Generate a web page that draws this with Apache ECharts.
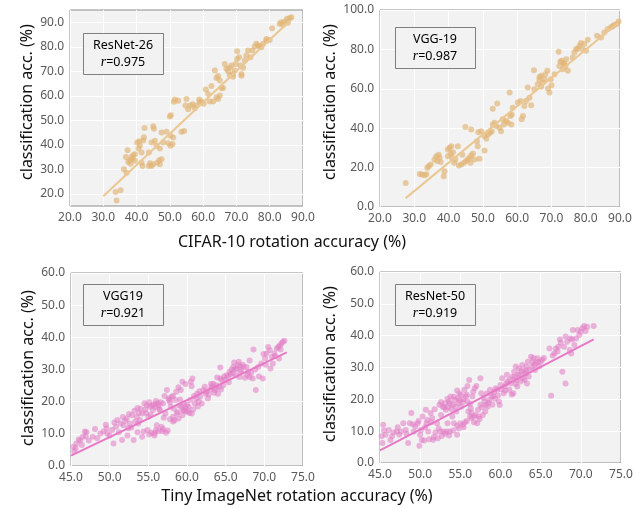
<!DOCTYPE html>
<html><head><meta charset="utf-8">
<script src="https://cdn.jsdelivr.net/npm/echarts@6.0.0/dist/echarts.min.js"></script>
<style>html,body{margin:0;padding:0;background:#fff}#c{width:642px;height:508px}</style>
</head><body><div id="c"></div>
<script>
// ---------- DATA ----------
const resnet26Cifar = [
[33.7,20.7],[35.2,21.4],[34,17.2],[37,28.6],[36.2,30],[37.3,37.8],[38.5,35],[38,33.7],[39,35.7],[37.5,33],
[38.2,32.2],[38.8,34.3],[39.5,36.1],[40.2,40.9],[40.8,41.4],[41,39.6],[40.6,38.5],[42,41.7],[42.2,43.1],[42.4,46.8],
[45,47.6],[45.2,46.5],[41.5,36.8],[41.5,32.7],[41.8,31.3],[43.7,31.3],[44.5,31.3],[44,32.4],[45,32],[46.2,32.7],
[46.8,33.7],[47.5,34.1],[47,32],[43.7,36.8],[44.5,40.9],[45.5,41.6],[46,39.6],[47,38.5],[48,40.9],[47.5,45],
[49,45.3],[49.5,40.6],[50.2,39.6],[50.8,40.3],[50.2,43.7],[51,43],[50,51.5],[50.3,52],[51.2,57.6],[51.5,58.5],
[52.5,58],[53.5,45.3],[54.3,45.6],[54.7,56],[55,58.7],[56.2,56],[56.8,56.5],[57.5,54.9],[58,56],[58.8,58.5],
[59,57.4],[59.5,57.7],[60.2,56.7],[60.8,62.6],[61.5,60.7],[62,57.7],[63,57.7],[63.5,70.3],[64,67.2],[64.5,68.1],
[65,66.2],[65,60.1],[65.5,63.2],[66,63.2],[64.5,58.7],[64,59.4],[66.5,73],[67,71],[67.5,70],[68,71.4],
[68.5,72.3],[69,68.9],[69.5,70.3],[69.8,73],[70.2,75],[70.2,78.2],[70.8,75.7],[71.2,72.3],[71.5,68.9],[72,71.4],
[72.5,74.4],[73,76.4],[73.5,78.5],[74.2,75.7],[74.8,78.5],[75.5,80.1],[76,81.2],[76.5,80.5],[77,80.1],[77.5,79.8],
[78,81.2],[79,82.5],[79,83.2],[80,82.8],[80.7,87.6],[83,89.4],[83.5,90],[84.5,90.3],[85.2,91.4],[86,91.6],
[86.5,92],[85.5,89.8],[84,89],[69,67.8],[68,68.5],[71.5,68.2],[39.5,33.5],[36.8,35],[55.5,54.5],[62.5,64]
];
const vgg19Cifar = [
[27.5,12.2],[31.6,16.8],[32.2,16.5],[33,16.1],[33.5,16.6],[33.8,19.9],[34.2,20.7],[34.8,21.6],[35.9,24.1],[36.4,25.8],
[37.1,26.5],[37.4,25],[36.7,23.3],[37.7,22.8],[38.8,18.2],[38.6,15.6],[39.8,29.2],[40.3,30.1],[40.8,30.9],[41.3,27.8],
[40.6,27.2],[39.8,25.8],[41,25],[41.6,22.4],[42,24.1],[42.7,30.9],[43,21.1],[43.7,21.6],[44.5,22.4],[45.1,23.3],
[45.6,24.1],[46.1,25],[46.6,26.1],[47.1,27.2],[46.4,22.4],[47.6,24.1],[44.9,40.6],[46.6,39.4],[48.3,33.4],[48.7,38],
[49.5,38.5],[48.5,30.9],[49,24.5],[50.5,36],[51,34.6],[51.5,36.8],[52.1,37.7],[52.6,38.5],[50.5,28.7],[52.9,41.9],
[53.4,42.8],[53.9,41.1],[54.2,52.6],[52.9,49.9],[54.9,40.2],[55.3,38.5],[56.1,41.9],[56.8,43.6],[57.3,42.8],[57.8,58.1],
[58,46.2],[58.4,47],[58.7,50.4],[58.3,41.9],[60.2,53],[61,53.8],[61.7,46.2],[61.3,44.5],[62.1,51.3],[62.6,53.8],
[63.6,55.5],[64.1,51.6],[63.1,60.6],[64.9,69.4],[65,59.8],[66,62.3],[66.5,64.5],[67,66.6],[67.5,63.2],[68,64.9],
[67,61.1],[68.2,67.4],[68.8,69.1],[69,60.1],[70,61.8],[69.8,64.9],[69.4,58.1],[70.9,67.4],[72.1,78.8],[72.3,71.6],
[72.6,73.7],[73,74.2],[73.6,73],[74.1,71.6],[74.3,75],[73.3,69.9],[74.8,69.1],[76.2,75.9],[76.7,78.4],[77.2,80.1],
[77.7,80.5],[78.2,81.8],[78.6,83.2],[79.1,80.1],[79.6,82.7],[80.6,84.9],[80.1,79.3],[83.3,86.9],[84.5,86.1],[85.4,88.6],
[86.4,90.3],[87.4,91.2],[88.3,92.4],[89.1,92.9],[89.6,94.1],[87.9,91.7],[44,26.5],[55.8,44.5],[66.5,66],[73.8,72.5]
];
const vgg19Tiny = [
[45.6,5.5],[45.7,7],[46.2,7.9],[46.5,9.1],[46.8,10.7],[46.4,6.5],[47.3,7.9],[47.8,9.1],[48.4,8.6],[48.8,10.1],
[49.2,10.7],[49.6,11.7],[49.7,10.1],[50.3,11.2],[50.5,7],[50.8,12.2],[51,14.3],[51.4,13.2],[51.6,8.1],[51.8,12.7],
[52,14.1],[52.2,14.8],[52.4,11.7],[52.6,13.2],[52.9,15.8],[53.1,8.1],[53.3,13.8],[53.5,15.3],[53.7,13.2],[53.9,14.3],
[54.2,16.3],[54.2,9.1],[54.4,10.7],[54.6,17.6],[54.8,18.9],[54.9,11.2],[55,15.3],[55.2,18.4],[55.4,10.3],[55.6,17.4],
[55.7,19.2],[55.9,18.4],[56,11.2],[56.1,12.7],[56.3,18.9],[56.5,17.4],[56.7,12.2],[56.9,19.4],[57.2,16.3],[57.3,10.3],
[57.4,23.6],[57.6,21],[57.8,14.5],[57.9,18.4],[58,21.5],[58.2,15.3],[58.2,13.8],[58.5,20.5],[58.6,23.1],[58.7,16.3],
[58.9,14.8],[59.1,20.7],[59.2,23.6],[59.3,18.4],[59.4,26.2],[59.5,17.4],[59.6,19.4],[59.7,18.1],[59.9,16.9],[60.2,18.4],
[60.4,20.5],[60.5,26.2],[60.7,27.2],[60.6,16.3],[60.8,17.6],[61,19.4],[61.2,21],[61.5,20],[61.7,21.5],[61.9,19.4],
[62.1,23.6],[62.3,24.6],[62.5,23.1],[62.7,21],[63,23.8],[63.2,24.6],[63.4,25.6],[63.6,23.6],[63.8,25.1],[64,22.5],
[64.2,24.6],[64.3,27.2],[64.3,30.6],[64.5,26.7],[64.7,25.1],[64.9,26.7],[65.1,28.2],[65.3,27.7],[65.5,29.3],[65.8,30],
[66,30.8],[66.2,30],[66.4,30.3],[66.6,31.3],[66.7,32.4],[66.8,27.7],[67,29.8],[67.3,30.8],[67.5,27.4],[67.7,30.8],
[67.9,29.3],[68.1,27.7],[68.5,27.2],[68.6,36.2],[68.8,30],[68.9,23.6],[69.2,30.8],[69.6,31.9],[69.8,27.2],[70.1,33.4],
[70.3,35],[70.5,37],[70.7,36],[71,33.9],[71.1,31.9],[71.3,35],[71.6,36.5],[71.8,37],[72,37.5],[72.2,38.1],
[72.4,38.6],[72.6,38.9],[71.9,33.4],[70.8,30.3],[45.4,4.6],[47,10.5],[50,9.5],[51.2,10.5],[52.8,12],[53.8,16.5],
[55.3,16],[56.2,19.5],[56.8,10.8],[57.8,19.8],[58.4,14.2],[59.8,25.5],[60.1,17.2],[61.4,18.5],[62.8,22.2],[63.5,22.8],
[65.6,28.5],[66.9,30.9],[55.8,10.2],[57,15],
[53.2,17.2],[53.6,18],[54,17.8],[54.5,19.5],[55.1,19.8],[55.5,18.8],[56,20.2],[56.4,17.8],[56.6,19.8],[54.7,16.5],
[55.8,9.5],[56.3,10.8],[55.1,9.8],[56.9,11.5],[57.5,11],[58.8,16.8],[59,18.8],[59.6,17.2],[60,19],[60.3,16.5],
[59.4,15.8],[58.3,17.8],[57.7,20.5],[58.2,21.8],[60.9,21.8],[61.6,23.2],[62.4,22.5],[63.1,25.5],[63.7,24.2],[64.4,23.8],
[64.8,27.8],[65.4,26],[65.9,28.8],[66.3,28.2],[66.9,29.2],[67.2,31.5],[67.8,28.2],[68.3,29],[69.3,27.8],[70.2,31.5],
[71.4,34.2],[72.1,36.2],[52.5,16.2],[51.7,15.2],[50.6,13.5],[49.5,12.8],[48.1,11.5],[46,8.2],[45.3,6],[46.9,9.2],
[53.6,10.5],[52.3,9.5],[57.1,21.8],[58.9,24.5],[60.6,24.8],[61.3,22.5],[63.9,27.5],[66.1,32.2],[68.1,32.8],[69.9,34.8]
];
const resnet50Tiny = [
[45.2,8.4],[45.3,6.3],[45.4,12],[45.7,8.9],[46.1,10.4],[46.5,8.4],[46.7,9.6],[47.1,9.9],[47.4,8.9],[47.6,9.9],
[47.9,12.5],[48.2,10.4],[48.5,6.3],[48.7,12.5],[48.9,15.7],[49.2,9.9],[49.4,11.5],[49.7,12.5],[49.9,5.4],[50,8.9],
[50.1,10.4],[50.3,14.6],[50.5,7.1],[50.7,16.7],[50.8,12.5],[51,9.9],[51.1,7.5],[51.3,15.7],[51.5,14.1],[51.6,7.3],
[51.8,16.9],[51.9,9.6],[52.1,12.5],[52.2,7.8],[52.4,18.3],[52.5,9.9],[52.6,15.1],[52.8,17.7],[52.9,9.9],[53.1,18.8],
[53.2,16.7],[53.3,9.9],[53.4,12.5],[53.6,19.3],[53.7,9.9],[53.8,20.9],[53.9,16.9],[54,14.6],[54.1,18.3],[54.2,12.5],
[54.3,19.8],[54.4,17.7],[54.6,8.9],[54.6,11.7],[54.7,20.4],[54.8,18.8],[55,12.5],[55.1,21.4],[55.1,17.7],[55.3,12],
[55.4,20],[55.5,23],[55.7,20.9],[55.9,19.3],[56.1,26.1],[56.2,14.6],[56.3,17.2],[56.4,14.1],[56.5,20.9],[56.6,22.4],
[56.7,14.6],[56.8,23.5],[56.9,15.1],[57.1,12.5],[57.2,16.7],[57.3,14.6],[57.5,18.3],[57.5,26.6],[57.6,21.9],[57.8,15.1],
[58,19.3],[58.2,18.3],[58.4,17.7],[58.6,19.8],[58.7,23],[58.9,20.9],[59,18.3],[59.2,22.4],[59.4,23.5],[59.6,23],
[59.8,19.3],[60,24.5],[60.2,26.6],[60.4,21.9],[60.5,24],[60.8,27.7],[60.9,25.6],[61.1,23],[61.3,25],[61.5,27.1],
[61.6,21.9],[61.7,28.7],[61.9,30.3],[62,26.1],[62.1,24],[62.3,29.7],[62.4,27.7],[62.5,25.6],[62.7,30.8],[62.9,28.7],
[63,26.1],[63.2,30.3],[63.3,25],[63.4,31.8],[63.6,29.2],[63.8,33.4],[64,31.8],[64.2,30.8],[64.4,31.3],[64.6,32.9],
[64.8,30.3],[65,31.8],[65.2,32.4],[66.1,36],[66.3,21.1],[66.7,34.4],[66.9,36],[67.2,36.5],[67.4,38.8],[67.5,37.8],
[67.7,28.7],[67.9,36.5],[68.1,39.7],[68.1,25],[68.3,38.1],[68.6,35.5],[68.7,39.1],[68.8,34.4],[69,41.8],[69.2,37.1],
[69.4,39.1],[69.6,41.8],[70,41.2],[70.2,42.3],[70.4,43],[70.8,42.8],[71.6,43],[50.9,13.5],[52.3,10.8],[53.5,17.5],
[54.9,19.6],[55.6,12.8],[56.0,16.2],[57.9,20.5],[59.1,21],[60.6,22.8],[61.8,27],[62.6,29],[63.1,28],[64.1,33],
[52.6,19.2],[53,17.5],[53.4,20.2],[53.7,18.6],[54.2,20.8],[54.5,16.2],[54.9,21.8],[55.3,19.2],[55.8,21.5],[56.2,18.5],
[52.7,8.5],[53.1,9.2],[53.6,8.6],[54.1,10.2],[54.8,10.8],[55.4,11.2],[55.8,13.2],[56.4,15.8],[56.7,12.8],[57.4,13.8],
[57.7,17.5],[58.1,16.2],[58.5,19],[59.3,20.2],[59.7,21.2],[60.1,23.2],[60.7,25],[61.2,26.2],[61.9,24.8],[62.2,27.8],
[62.8,26.6],[63.2,29.2],[63.5,27.2],[63.9,30.2],[64.3,29.2],[64.7,31.8],[65.4,33],[61.4,21.5],[59.9,18.2],[58.3,21.8],
[57,24.2],[55.9,24.2],[54.6,22.8],[51.4,12.8],[50.6,11.2],[49.8,13.2],[49.1,12.2],[48.3,9.2],[47.2,11.2],[46.3,7.2],
[45.5,10.2],[50.2,7.2],[51.7,8.2],[68.9,38.8],[69.8,40.2],[70.6,41.5],[67.1,35],[66.5,33.8]
];
const fitResnet26Cifar = [[30,19],[86,90.5]];
const fitVgg19Cifar = [[27.5,4.5],[89.5,93.5]];
const fitVgg19Tiny = [[45,3.2],[72.9,35.3]];
const fitResnet50Tiny = [[45,4],[71.6,38.8]];
const yTicks1 = [20,30,40,50,60,70,80,90];
const panelNames = ['ResNet-26','VGG-19','VGG19','ResNet-50'];
const panelR = ['0.975','0.987','0.921','0.919'];
const yTitle = 'classification acc. (%)';
const xTitleTop = 'CIFAR-10 rotation accuracy (%)';
const xTitleBottom = 'Tiny ImageNet rotation accuracy (%)';

// ---------- STYLE ----------
const FONT = 'Noto Sans';
const tan = '#e2b677', tanLine = '#ebc792';
const pink = '#e27cc4', pinkLine = '#e878c6';
const grids = [
  {left:70, top:10, width:233, height:196},
  {left:380, top:10, width:240, height:197},
  {left:71, top:273, width:232, height:193},
  {left:380, top:272, width:241, height:191}
];
function xAx(i,min,max,interval){
  return {type:'value', gridIndex:i, min, max, interval,
    axisLine:{show:false}, axisTick:{show:false},
    splitLine:{show:true, lineStyle:{color:'#ffffff', width:1}},
    axisLabel:{color:'#595959', fontFamily:FONT, fontSize:12, margin:6, formatter:v=>v.toFixed(1)}};
}
function yAx(i,min,max,interval,custom){
  const a = {type:'value', gridIndex:i, min, max,
    axisLine:{show:false}, axisTick:{show:false},
    splitLine:{show:true, lineStyle:{color:'#ffffff', width:1}},
    axisLabel:{color:'#595959', fontFamily:FONT, fontSize:12, margin:6, formatter:v=>v.toFixed(1)}};
  if (custom) { a.axisLabel.customValues = custom; a.axisTick.customValues = custom; }
  else a.interval = interval;
  return a;
}
function scat(i,data,color,op){
  return {type:'scatter', xAxisIndex:i, yAxisIndex:i, data, symbolSize:6,
    itemStyle:{color, opacity:op}, z:2};
}
function fit(i,data,color){
  return {type:'line', xAxisIndex:i, yAxisIndex:i, data, symbol:'none',
    lineStyle:{color, width:2}, z:3};
}
const boxes = [[83,33],[395,27],[83,284],[395,284]];
const graphic = [];
boxes.forEach((b,k)=>{
  graphic.push({type:'rect', left:b[0], top:b[1], shape:{width:80,height:41},
    style:{fill:'#f2f2f2', stroke:'#7f7f7f', lineWidth:1}, z:10});
  graphic.push({type:'text', x:b[0]+40, y:b[1]+20.5, z:11,
    style:{text:'{n|'+panelNames[k]+'}\n{i|r}{n|='+panelR[k]+'}', align:'center', verticalAlign:'middle',
      rich:{n:{fontFamily:FONT, fontSize:12.5, color:'#111', lineHeight:17},
            i:{fontFamily:'Liberation Serif', fontStyle:'italic', fontSize:14, color:'#111', lineHeight:17}}}});
});
[[27,102],[330,102],[28,368],[330,364]].forEach(p=>{
  graphic.push({type:'text', x:p[0], y:p[1], rotation:Math.PI/2,
    style:{text:yTitle, fontFamily:FONT, fontSize:16, fill:'#111', align:'center', verticalAlign:'middle'}});
});
graphic.push({type:'text', x:292, y:242, style:{text:xTitleTop, fontFamily:FONT, fontSize:16, fill:'#111', align:'center', verticalAlign:'middle'}});
graphic.push({type:'text', x:297, y:496, style:{text:xTitleBottom, fontFamily:FONT, fontSize:16, fill:'#111', align:'center', verticalAlign:'middle'}});

const chart = echarts.init(document.getElementById('c'), null, {renderer:'canvas'});
chart.setOption({
  animation:false,
  backgroundColor:'#ffffff',
  grid: grids.map(g=>Object.assign({show:true, backgroundColor:'#f2f2f2', borderColor:'#8c8c8c', borderWidth:1}, g)),
  xAxis:[xAx(0,20,90,10), xAx(1,20,90,10), xAx(2,45,75,5), xAx(3,45,75,5)],
  yAxis:[yAx(0,15,95,10,yTicks1), yAx(1,0,100,20), yAx(2,0,60,10), yAx(3,0,60,10)],
  series:[
    scat(0,resnet26Cifar,tan,0.68), fit(0,fitResnet26Cifar,tanLine),
    scat(1,vgg19Cifar,tan,0.68), fit(1,fitVgg19Cifar,tanLine),
    scat(2,vgg19Tiny,pink,0.55), fit(2,fitVgg19Tiny,pinkLine),
    scat(3,resnet50Tiny,pink,0.55), fit(3,fitResnet50Tiny,pinkLine)
  ],
  graphic
});
</script></body></html>
